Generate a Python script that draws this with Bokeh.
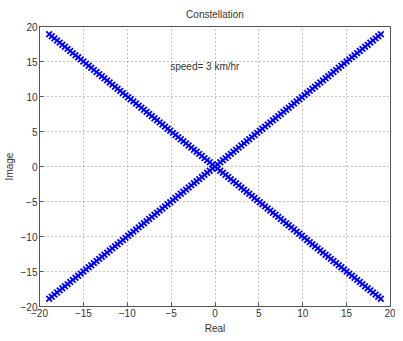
from bokeh.plotting import figure
from bokeh.models import Label, FixedTicker
from bokeh.embed import file_html
from bokeh.resources import INLINE

# Data: points along the two constellation diagonals
real_vals = [-18.9, -18.6, -18.3, -18.0, -17.7, -17.4, -17.1, -16.8, -16.5, -16.2,
             -15.9, -15.6, -15.3, -15.0, -14.7, -14.4, -14.1, -13.8, -13.5, -13.2,
             -12.9, -12.6, -12.3, -12.0, -11.7, -11.4, -11.1, -10.8, -10.5, -10.2,
             -9.9, -9.6, -9.3, -9.0, -8.7, -8.4, -8.1, -7.8, -7.5, -7.2,
             -6.9, -6.6, -6.3, -6.0, -5.7, -5.4, -5.1, -4.8, -4.5, -4.2,
             -3.9, -3.6, -3.3, -3.0, -2.7, -2.4, -2.1, -1.8, -1.5, -1.2,
             -0.9, -0.6, -0.3, 0.0, 0.3, 0.6, 0.9, 1.2, 1.5, 1.8,
             2.1, 2.4, 2.7, 3.0, 3.3, 3.6, 3.9, 4.2, 4.5, 4.8,
             5.1, 5.4, 5.7, 6.0, 6.3, 6.6, 6.9, 7.2, 7.5, 7.8,
             8.1, 8.4, 8.7, 9.0, 9.3, 9.6, 9.9, 10.2, 10.5, 10.8,
             11.1, 11.4, 11.7, 12.0, 12.3, 12.6, 12.9, 13.2, 13.5, 13.8,
             14.1, 14.4, 14.7, 15.0, 15.3, 15.6, 15.9, 16.2, 16.5, 16.8,
             17.1, 17.4, 17.7, 18.0, 18.3, 18.6, 18.9]
imag_rising = list(real_vals)
imag_falling = [-v for v in real_vals]
ticks = [-20, -15, -10, -5, 0, 5, 10, 15, 20]
title_text = "Constellation"
note_text = "speed= 3 km/hr"
note_x, note_y = -5.1, 14.3

FONT = "Liberation Sans"
p = figure(width=395, height=338, output_backend="svg", toolbar_location=None,
           x_range=(-20, 20), y_range=(-20, 20),
           min_border_left=33, min_border_right=5, min_border_top=24, min_border_bottom=32)
p.title.text = title_text
p.title.align = "center"
p.title.text_font = FONT
p.title.text_font_size = "10px"
p.title.text_font_style = "normal"
p.title.text_color = "#333333"
p.title.standoff = 13

p.scatter(real_vals, imag_rising, marker="x", size=8, line_width=1.8, color="#0000ff")
p.scatter(real_vals, imag_falling, marker="x", size=8, line_width=1.8, color="#0000ff")

for ax in (p.xaxis[0], p.yaxis[0]):
    ax.ticker = FixedTicker(ticks=ticks)
    ax.major_tick_in = 4
    ax.major_tick_out = 0
    ax.minor_tick_line_color = None
    ax.major_label_text_font = FONT
    ax.major_label_text_font_size = "10px"
    ax.major_label_text_color = "#333333"
    ax.axis_label_text_font = FONT
    ax.axis_label_text_font_size = "10px"
    ax.axis_label_text_font_style = "normal"
    ax.axis_label_text_color = "#333333"
    ax.axis_line_color = "#555555"
    ax.major_tick_line_color = "#555555"
    ax.major_label_standoff = 2
    ax.axis_label_standoff = 3
p.xaxis.axis_label = "Real"
p.yaxis.axis_label = "Image"

p.xgrid.ticker = FixedTicker(ticks=ticks)
p.ygrid.ticker = FixedTicker(ticks=ticks)
p.grid.grid_line_color = "#888888"
p.grid.grid_line_dash = "1 3"
p.grid.grid_line_width = 1
p.outline_line_color = "#555555"

p.add_layout(Label(x=note_x, y=note_y, text=note_text, text_font=FONT,
                   text_font_size="10px", text_color="#333333", text_baseline="middle"))

open("out.html", "w").write(file_html(p, INLINE))
